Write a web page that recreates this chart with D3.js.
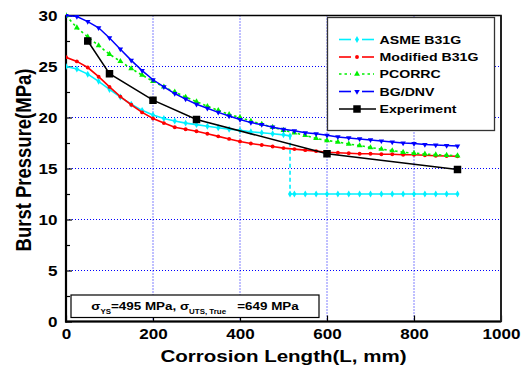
<!DOCTYPE html>
<html>
<head>
<meta charset="utf-8">
<script src="https://cdn.jsdelivr.net/npm/d3@7"></script>
<style>
  body { margin: 0; background: #fff; }
  text { font-family: "Liberation Sans", Arial, sans-serif; font-weight: bold; fill: #000; }
</style>
</head>
<body>
<svg id="chart" width="531" height="369"></svg>
<script>
// Corrosion lengths (mm) shared by the three analytical curves
const lengths = [0, 25, 50, 75, 100, 125, 150, 175, 200, 225, 250, 275, 300, 325, 350, 375,
  400, 425, 450, 475, 500, 525, 550, 575, 600, 625, 650, 675, 700, 725, 750, 775, 800, 825,
  850, 875, 900];

// Burst pressure predictions (MPa)
const modifiedB31G = [25.9, 25.5, 24.9, 24.0, 23.0, 22.05, 21.25, 20.5, 19.9, 19.45, 19.05,
  18.85, 18.65, 18.4, 18.15, 17.9, 17.65, 17.45, 17.3, 17.15, 17.0, 16.9, 16.8, 16.7, 16.6,
  16.55, 16.5, 16.45, 16.45, 16.4, 16.4, 16.35, 16.35, 16.3, 16.25, 16.22, 16.2];
const pcorrc = [30.0, 28.8, 27.9, 27.05, 26.2, 25.5, 24.8, 24.15, 23.55, 23.0, 22.5, 22.0,
  21.55, 21.1, 20.7, 20.3, 20.0, 19.65, 19.35, 19.05, 18.75, 18.5, 18.25, 17.95, 17.75, 17.6,
  17.4, 17.25, 17.05, 16.9, 16.75, 16.6, 16.5, 16.42, 16.35, 16.3, 16.25];
const bgDnv = [30.0, 29.9, 29.4, 28.8, 27.8, 26.7, 25.6, 24.6, 23.7, 23.0, 22.35, 21.8, 21.3,
  20.9, 20.5, 20.15, 19.8, 19.5, 19.3, 19.05, 18.85, 18.7, 18.5, 18.4, 18.25, 18.1, 18.0,
  17.9, 17.8, 17.7, 17.6, 17.5, 17.45, 17.35, 17.3, 17.25, 17.2];

// ASME B31G has its own length grid because of the long-flaw cut-off at 515 mm
const asmeLengths = [0, 25, 50, 75, 100, 125, 150, 175, 200, 225, 250, 275, 300, 325, 350,
  375, 400, 425, 450, 475, 500, 515, 515, 525, 550, 575, 600, 625, 650, 675, 700, 725, 750,
  775, 800, 825, 850, 875, 900];
const asmeB31G = [25.0, 24.75, 24.25, 23.55, 22.75, 22.0, 21.3, 20.7, 20.25, 19.9, 19.65,
  19.45, 19.3, 19.15, 19.0, 18.85, 18.75, 18.6, 18.5, 18.4, 18.3, 18.2, 12.5, 12.5, 12.5,
  12.5, 12.5, 12.5, 12.5, 12.5, 12.5, 12.5, 12.5, 12.5, 12.5, 12.5, 12.5, 12.5, 12.5];

// Full-scale test results
const expLengths = [50, 100, 200, 300, 600, 900];
const expPressure = [27.5, 24.3, 21.7, 19.8, 16.45, 14.9];

const xTicks = [0, 200, 400, 600, 800, 1000];
const yTicks = [0, 5, 10, 15, 20, 25, 30];
const yMinorTicks = [2.5, 7.5, 12.5, 17.5, 22.5, 27.5];
const seriesNames = ["ASME B31G", "Modified B31G", "PCORRC", "BG/DNV", "Experiment"];

const SX = 1.22; // horizontal stretch applied to all lettering
const svg = d3.select("#chart");
const pLeft = 66, pRight = 501, pTop = 15.5, pBottom = 321.5;
const x = d3.scaleLinear().domain([0, 1000]).range([pLeft, pRight]);
const y = d3.scaleLinear().domain([0, 30]).range([pBottom, pTop]);

// grid
const grid = svg.append("g").attr("stroke", "#0000ff").attr("stroke-width", 1)
  .attr("stroke-dasharray", "1,2");
[200, 400, 600, 800].forEach(v => grid.append("line")
  .attr("x1", x(v)).attr("x2", x(v)).attr("y1", pTop).attr("y2", pBottom));
[5, 10, 15, 20, 25].forEach(v => grid.append("line")
  .attr("x1", pLeft).attr("x2", pRight).attr("y1", y(v)).attr("y2", y(v)));

// axes with inward ticks
const xAxis = svg.append("g").attr("transform", `translate(0,${pBottom})`)
  .call(d3.axisBottom(x).tickValues(xTicks).tickSize(-6).tickPadding(8).tickFormat(d3.format("d")));
const yAxis = svg.append("g").attr("transform", `translate(${pLeft},0)`)
  .call(d3.axisLeft(y).tickValues(yTicks).tickSize(-6).tickFormat(d3.format("d")));
svg.append("g").attr("transform", `translate(${pLeft},0)`)
  .call(d3.axisLeft(y).tickValues(yMinorTicks).tickSize(-4).tickFormat(""))
  .call(g => g.select(".domain").remove())
  .selectAll("line").attr("stroke", "#000").attr("stroke-width", 1.2);
[xAxis, yAxis].forEach(a => { a.select(".domain").remove(); a.selectAll("line").attr("stroke", "#000").attr("stroke-width", 1.2); });
xAxis.selectAll("text").attr("font-size", 14).attr("font-family", null)
  .attr("transform", `scale(${SX},1)`);
yAxis.selectAll("text").attr("font-size", 14).attr("font-family", null)
  .attr("x", -7).attr("dy", "0.36em").attr("transform", `scale(${SX},1)`);

// frame
svg.append("rect").attr("x", pLeft).attr("y", pTop).attr("width", pRight - pLeft)
  .attr("height", pBottom - pTop).attr("fill", "none").attr("stroke", "#000").attr("stroke-width", 1.5);
svg.append("line").attr("x1", pLeft).attr("x2", pLeft).attr("y1", pTop).attr("y2", pBottom + 1)
  .attr("stroke", "#000").attr("stroke-width", 2.2);
svg.append("line").attr("x1", pLeft - 1).attr("x2", pRight).attr("y1", pBottom).attr("y2", pBottom)
  .attr("stroke", "#000").attr("stroke-width", 2.2);
svg.append("line").attr("x1", pRight).attr("x2", pRight).attr("y1", pTop).attr("y2", pBottom)
  .attr("stroke", "#222").attr("stroke-width", 2);

svg.append("clipPath").attr("id", "plotClip").append("rect")
  .attr("x", pLeft).attr("y", pTop - 4).attr("width", pRight - pLeft + 4).attr("height", pBottom - pTop + 4);
const plot = svg.append("g").attr("clip-path", "url(#plotClip)");

const line = d3.line().x(d => x(d[0])).y(d => y(d[1]));
const sym = (type, size, rot) => ({ p: d3.symbol().type(type).size(size)(), rot: rot || 0 });
const styles = [
  { color: "#00f0ff", dash: null, marker: sym(d3.symbolDiamond, 14), width: 1.6 },
  { color: "#ff0000", dash: null, marker: sym(d3.symbolCircle, 12), width: 1.6 },
  { color: "#00f000", dash: "2.5,3", marker: sym(d3.symbolTriangle, 15), width: 1.6 },
  { color: "#0000ff", dash: null, marker: sym(d3.symbolTriangle, 13, 180), width: 1.5 },
  { color: "#000000", dash: null, marker: sym(d3.symbolSquare, 56), width: 1.5 }
];

function drawSeries(xs, ys, st) {
  const pts = xs.map((v, i) => [v, ys[i]]);
  // a repeated length marks a vertical jump, drawn dashed
  let segStart = 0;
  const segments = [];
  for (let i = 1; i < pts.length; i++) {
    if (pts[i][0] === pts[i - 1][0]) {
      segments.push({ pts: pts.slice(segStart, i), dash: st.dash });
      segments.push({ pts: [pts[i - 1], pts[i]], dash: "4,3" });
      segStart = i;
    }
  }
  segments.push({ pts: pts.slice(segStart), dash: st.dash });
  segments.forEach(s => plot.append("path").attr("d", line(s.pts)).attr("fill", "none")
    .attr("stroke", st.color).attr("stroke-width", st.width)
    .attr("stroke-dasharray", s.dash));
  plot.selectAll(null).data(pts).enter().append("path")
    .attr("d", st.marker.p)
    .attr("transform", d => `translate(${x(d[0])},${y(d[1])}) rotate(${st.marker.rot})`)
    .attr("fill", st.color);
}

drawSeries(asmeLengths, asmeB31G, styles[0]);
drawSeries(lengths, modifiedB31G, styles[1]);
drawSeries(lengths, pcorrc, styles[2]);
drawSeries(lengths, bgDnv, styles[3]);
drawSeries(expLengths, expPressure, styles[4]);

// legend
const lg = svg.append("g");
lg.append("rect").attr("x", 327.5).attr("y", 17.5).attr("width", 167).attr("height", 113)
  .attr("fill", "#fff").attr("stroke", "#333").attr("stroke-width", 1.3);
const legendRows = [39.5, 57, 74, 91.5, 109];
seriesNames.forEach((name, i) => {
  const st = styles[i], cy = legendRows[i];
  const g = lg.append("g");
  if (i === 4) {
    g.append("line").attr("x1", 339).attr("x2", 376).attr("y1", cy).attr("y2", cy)
      .attr("stroke", st.color).attr("stroke-width", 1.5);
  } else {
    [[339, 351], [362, 374]].forEach(([a, b]) => g.append("line")
      .attr("x1", a).attr("x2", b).attr("y1", cy).attr("y2", cy)
      .attr("stroke", st.color).attr("stroke-width", 1.6)
      .attr("stroke-dasharray", st.dash));
  }
  g.append("path").attr("d", st.marker.p)
    .attr("transform", `translate(357,${cy}) rotate(${st.marker.rot})`).attr("fill", st.color);
  g.append("g").attr("transform", `translate(379.5,${cy + 4.2}) scale(${SX},1)`)
    .append("text").attr("font-size", 11.6).text(name);
});

// material annotation
svg.append("rect").attr("x", 71).attr("y", 295).attr("width", 248).attr("height", 22.5)
  .attr("fill", "#fff").attr("stroke", "#000").attr("stroke-width", 1.2);
const note = svg.append("g").attr("transform", `translate(195,309.5) scale(${SX},1)`)
  .append("text").attr("font-size", 11).attr("text-anchor", "middle");
note.append("tspan").text("σ");
note.append("tspan").attr("font-size", 6.5).attr("dy", 4).text("YS");
note.append("tspan").attr("dy", -4).text("=495 MPa, σ");
note.append("tspan").attr("font-size", 6.5).attr("dy", 4).text("UTS, True");
note.append("tspan").attr("dy", -4).text("\u00a0\u00a0\u00a0=649 MPa");

// axis titles
svg.append("g").attr("transform", `translate(${(pLeft + pRight) / 2},361.5) scale(${SX * 1.02},1)`)
  .append("text").attr("font-size", 16.5).attr("text-anchor", "middle")
  .text("Corrosion Length(L, mm)");
svg.append("g").attr("transform", `translate(31,160) scale(${SX},1) rotate(-90)`)
  .append("text").attr("font-size", 18.5).attr("text-anchor", "middle")
  .text("Burst Pressure(MPa)");
</script>
</body>
</html>
